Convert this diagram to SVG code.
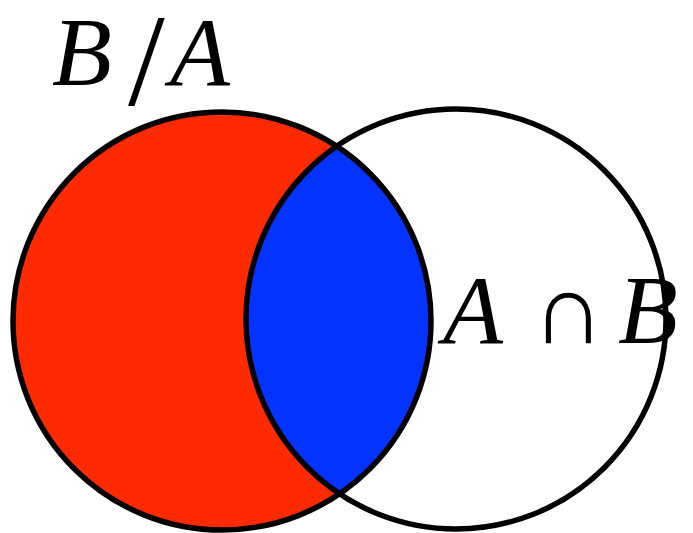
<svg xmlns="http://www.w3.org/2000/svg" width="693" height="533" viewBox="0 0 693 533">
<g id="setB">
<circle cx="222" cy="321" r="209" fill="#ff2a00"/>
</g>
<g id="intersection">
<path d="M336.61 146.24 A209 209 0 0 1 339.59 493.78 A210 210 0 0 1 336.61 146.24 Z" fill="#0433ff"/>
</g>
<g id="outlines" fill="none" stroke="#000" stroke-width="5.5">
<circle cx="222" cy="321" r="209"/>
<circle cx="456" cy="319" r="210"/>
</g>
<g id="labelBA">
<text x="52" y="85" font-family="Liberation Serif" font-style="italic" font-size="98">B</text>
<text x="128" y="105" font-family="Liberation Serif" font-size="132">/</text>
<text x="170" y="85" font-family="Liberation Serif" font-style="italic" font-size="98">A</text>
</g>
<g id="labelAB">
<text x="443" y="343" font-family="Liberation Serif" font-style="italic" font-size="98">A</text>
<text x="532" y="343" font-family="Liberation Serif" font-size="100">∩</text>
<text x="618" y="343" font-family="Liberation Serif" font-style="italic" font-size="98">B</text>
</g>
</svg>
